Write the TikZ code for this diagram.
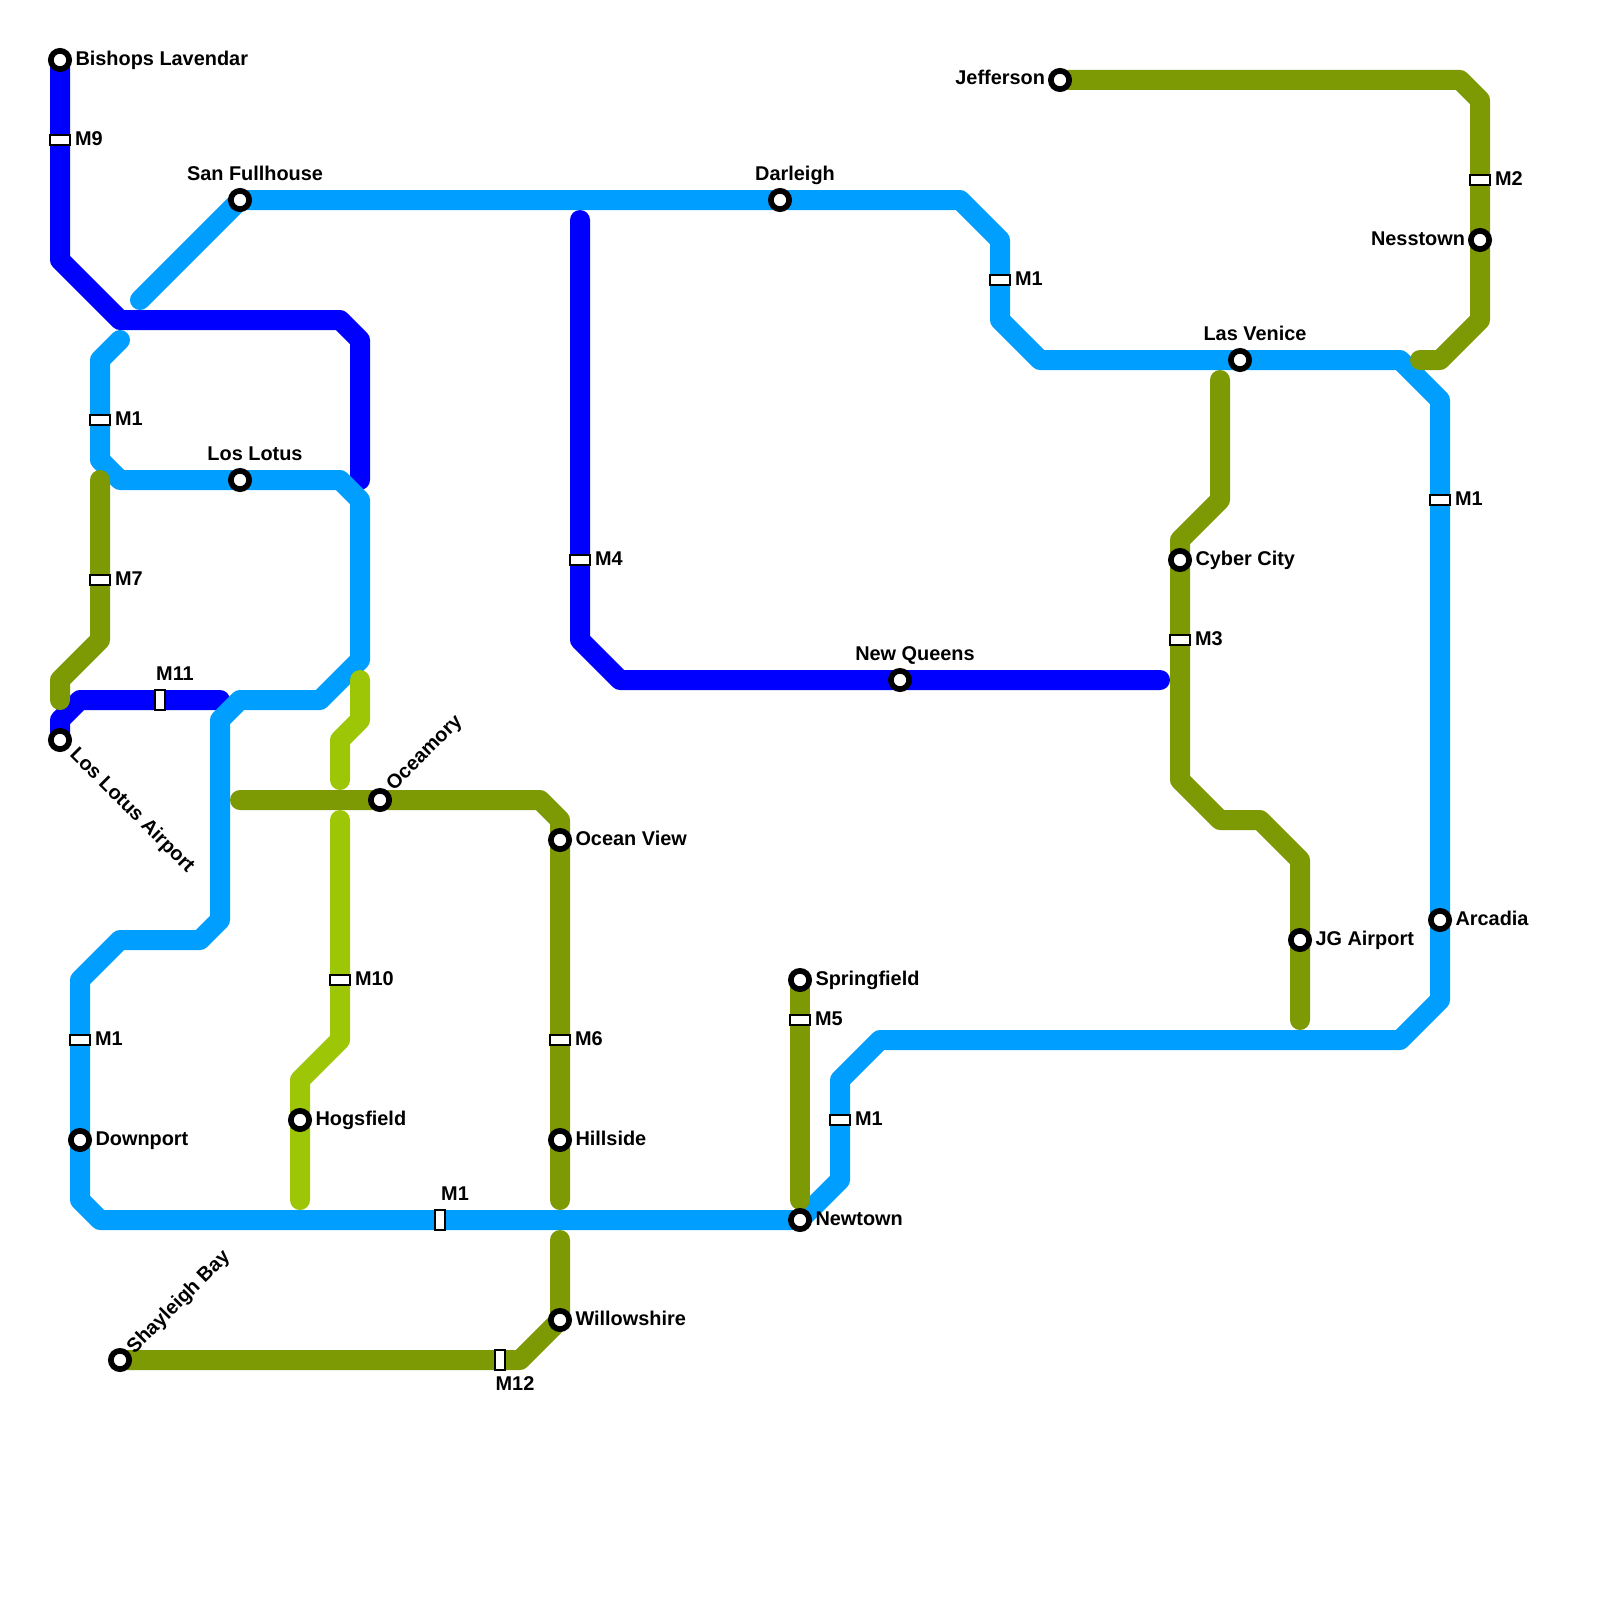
\documentclass[tikz,border=0pt]{standalone}
\usepackage{fontspec}
\setmainfont{Liberation Sans}
\usetikzlibrary{backgrounds}
\definecolor{cBlue}{HTML}{0000FF}
\definecolor{cSky}{HTML}{009EFF}
\definecolor{cOlive}{HTML}{7D9A05}
\definecolor{cLime}{HTML}{9DC606}
\tikzset{
  x=1pt,y=-1pt,
  route/.style={line width=20pt,line cap=round,line join=round},
  stn/.style={circle,draw=black,fill=white,line width=5.7pt,minimum size=18.3pt,inner sep=0pt,outer sep=0pt},
  hmark/.style={rectangle,draw=black,fill=white,line width=2pt,minimum width=19.5pt,minimum height=9.5pt,inner sep=0pt,outer sep=0pt},
  vmark/.style={rectangle,draw=black,fill=white,line width=2pt,minimum width=9.5pt,minimum height=19.5pt,inner sep=0pt,outer sep=0pt},
  lab/.style={inner sep=0pt,outer sep=0pt,font=\fontsize{19.9}{24}\selectfont\bfseries,text=black},
  rlab/.style={lab,anchor=base west},
  llab/.style={lab,anchor=base east},
  clab/.style={lab,anchor=base},
}
\begin{document}
\begin{tikzpicture}
\useasboundingbox (0,0) rectangle (1600,1600);
% stations
\foreach \n/\x/\y in {bishops/60/60,sanfull/240/200,darleigh/780/200,laslotus/240/480,lasvenice/1240/360,arcadia/1440/920,newtown/800/1220,downport/80/1140,airport/60/740,newqueens/900/680,jefferson/1060/80,nesstown/1480/240,cyber/1180/560,jg/1300/940,springfield/800/980,oceamory/380/800,oceanview/560/840,hillside/560/1140,willow/560/1320,shayleigh/120/1360,hogsfield/300/1120}
  \node[stn] (\n) at (\x,\y) {};
% markers
\foreach \n/\x/\y in {m9/60/140,mOneA/100/420,mOneB/1000/280,mOneC/1440/500,mOneD/840/1120,mOneE/80/1040,mSeven/100/580,mFour/580/560,mThree/1180/640,mTwo/1480/180,mFive/800/1020,mSix/560/1040,mTen/340/980}
  \node[hmark] (\n) at (\x,\y) {};
\foreach \n/\x/\y in {mEleven/160/700,mOneF/440/1220,mTwelve/500/1360}
  \node[vmark] (\n) at (\x,\y) {};
% labels
\node[rlab] (tBishops) at (75.5,66) {Bishops Lavendar};
\node[rlab] (tM9) at (75,145.5) {M9};
\node[clab] (tSan) at (255,180) {San Fullhouse};
\node[clab] (tDar) at (795,180) {Darleigh};
\node[clab] (tLot) at (255,460) {Los Lotus};
\node[clab] (tVen) at (1255,340) {Las Venice};
\node[clab] (tNew) at (915,660) {New Queens};
\node[clab] (tM11) at (175,680) {M11};
\node[clab] (tM1f) at (455,1200) {M1};
\node[clab] (tM12) at (515,1390) {M12};
\node[rlab] (tM1a) at (115,425) {M1};
\node[rlab] (tM7) at (115,585) {M7};
\node[rlab] (tM4) at (595,565) {M4};
\node[rlab] (tM1b) at (1015,285) {M1};
\node[rlab] (tM1c) at (1455,505) {M1};
\node[rlab] (tM2) at (1495,185) {M2};
\node[rlab] (tM3) at (1195,645) {M3};
\node[rlab] (tCyb) at (1195.5,565) {Cyber City};
\node[rlab] (tJG) at (1315.5,945) {JG Airport};
\node[rlab] (tArc) at (1455.5,925) {Arcadia};
\node[rlab] (tSpr) at (815.5,985) {Springfield};
\node[rlab] (tM5) at (815,1025) {M5};
\node[rlab] (tM1d) at (855,1125) {M1};
\node[rlab] (tNwt) at (815.5,1225) {Newtown};
\node[rlab] (tOV) at (575.5,845) {Ocean View};
\node[rlab] (tM6) at (575,1045) {M6};
\node[rlab] (tHil) at (575.5,1145) {Hillside};
\node[rlab] (tWil) at (575.5,1325) {Willowshire};
\node[rlab] (tM10) at (355,985) {M10};
\node[rlab] (tHog) at (315.5,1125) {Hogsfield};
\node[rlab] (tM1e) at (95,1045) {M1};
\node[rlab] (tDow) at (95.5,1145) {Downport};
\node[llab] (tJef) at (1045,85) {Jefferson};
\node[llab] (tNes) at (1465,245) {Nesstown};
\node[rlab,rotate=-45] (tAir) at (69,755.5) {Los Lotus Airport};
\node[rlab,rotate=45] (tOce) at (394,791) {Oceamory};
\node[rlab,rotate=45] (tSha) at (134.5,1354) {Shayleigh Bay};
% ends and bends
\begin{scope}[on background layer]
\draw[route,cBlue] (bishops.center) -- (m9.center) -- (60,260) -- (120,320) -- (340,320) -- (360,340) -- (360,480);
\draw[route,cBlue] (580,220) -- (mFour.center) -- (580,640) -- (620,680) -- (newqueens.center) -- (1160,680);
\draw[route,cBlue] (airport.center) -- (60,720) -- (80,700) -- (mEleven.center) -- (220,700);
\draw[route,cSky] (140,300) -- (sanfull.center) -- (darleigh.center) -- (960,200) -- (1000,240) -- (mOneB.center) -- (1000,320) -- (1040,360) -- (lasvenice.center) -- (1400,360) -- (1440,400) -- (mOneC.center) -- (arcadia.center) -- (1440,1000) -- (1400,1040) -- (880,1040) -- (840,1080) -- (mOneD.center) -- (840,1180) -- (newtown.center) -- (mOneF.center) -- (100,1220) -- (80,1200) -- (downport.center) -- (mOneE.center) -- (80,980) -- (120,940) -- (200,940) -- (220,920) -- (220,720) -- (240,700) -- (320,700) -- (360,660) -- (360,500) -- (340,480) -- (laslotus.center) -- (120,480) -- (100,460) -- (mOneA.center) -- (100,360) -- (120,340);
\draw[route,cOlive] (jefferson.center) -- (1460,80) -- (1480,100) -- (mTwo.center) -- (nesstown.center) -- (1480,320) -- (1440,360) -- (1420,360);
\draw[route,cOlive] (1220,380) -- (1220,500) -- (1180,540) -- (cyber.center) -- (mThree.center) -- (1180,780) -- (1220,820) -- (1260,820) -- (1300,860) -- (jg.center) -- (1300,1020);
\draw[route,cOlive] (springfield.center) -- (mFive.center) -- (800,1200);
\draw[route,cOlive] (240,800) -- (oceamory.center) -- (540,800) -- (560,820) -- (oceanview.center) -- (mSix.center) -- (hillside.center) -- (560,1200);
\draw[route,cOlive] (shayleigh.center) -- (mTwelve.center) -- (520,1360) -- (willow.center) -- (560,1240);
\draw[route,cOlive] (100,480) -- (mSeven.center) -- (100,640) -- (60,680) -- (60,700);
\draw[route,cLime] (360,680) -- (360,720) -- (340,740) -- (340,780);
\draw[route,cLime] (340,820) -- (mTen.center) -- (340,1040) -- (300,1080) -- (hogsfield.center) -- (300,1200);
\end{scope}
\end{tikzpicture}
\end{document}
